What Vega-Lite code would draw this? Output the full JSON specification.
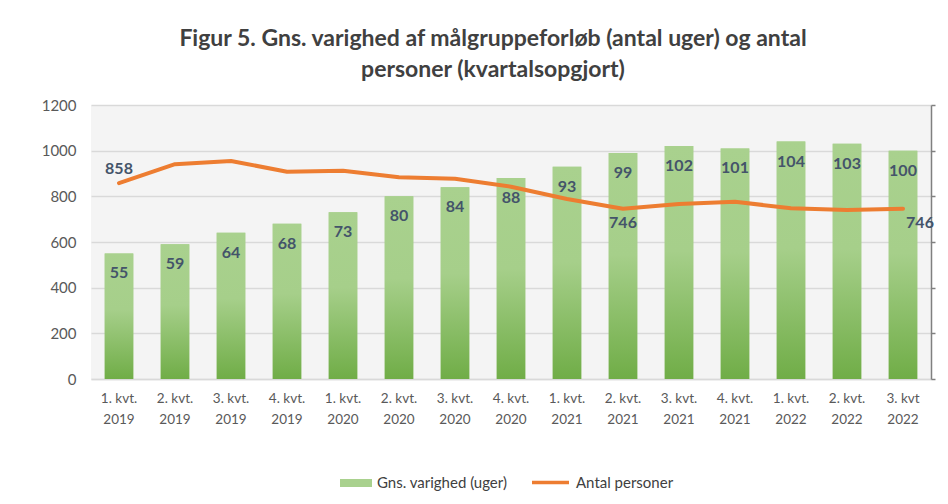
{
  "$schema": "https://vega.github.io/schema/vega-lite/v6.json",
  "autosize": "none",
  "width": 840,
  "height": 274,
  "padding": {"left": 91, "top": 105, "right": 17, "bottom": 125},
  "background": "white",
  "config": {
    "font": "Lato",
    "view": {"fill": "#f4f4f4", "stroke": null}
  },
  "title": {
    "text": ["Figur 5. Gns. varighed af målgruppeforløb (antal uger) og antal", "personer (kvartalsopgjort)"],
    "font": "Lato",
    "fontSize": 23,
    "fontWeight": "bold",
    "color": "#404040",
    "anchor": "middle",
    "dx": -18,
    "offset": 16,
    "lineHeight": 31
  },
  "data": {
    "values": [
      {"kvartal": "1. kvt. 2019", "uger": 55, "personer": 858},
      {"kvartal": "2. kvt. 2019", "uger": 59, "personer": 941},
      {"kvartal": "3. kvt. 2019", "uger": 64, "personer": 955},
      {"kvartal": "4. kvt. 2019", "uger": 68, "personer": 908},
      {"kvartal": "1. kvt. 2020", "uger": 73, "personer": 912},
      {"kvartal": "2. kvt. 2020", "uger": 80, "personer": 884},
      {"kvartal": "3. kvt. 2020", "uger": 84, "personer": 877},
      {"kvartal": "4. kvt. 2020", "uger": 88, "personer": 842},
      {"kvartal": "1. kvt. 2021", "uger": 93, "personer": 788},
      {"kvartal": "2. kvt. 2021", "uger": 99, "personer": 746},
      {"kvartal": "3. kvt. 2021", "uger": 102, "personer": 766},
      {"kvartal": "4. kvt. 2021", "uger": 101, "personer": 776},
      {"kvartal": "1. kvt. 2022", "uger": 104, "personer": 748},
      {"kvartal": "2. kvt. 2022", "uger": 103, "personer": 740},
      {"kvartal": "3. kvt 2022", "uger": 100, "personer": 746}
    ]
  },
  "encoding": {
    "x": {
      "field": "kvartal",
      "type": "nominal",
      "sort": null,
      "scale": {"paddingInner": 0.49, "paddingOuter": 0.245},
      "axis": {
        "title": null,
        "labelAngle": 0,
        "labelExpr": "[slice(datum.label, 0, -5), slice(datum.label, -4)]",
        "labelFont": "Lato",
        "labelFontSize": 13.5,
        "labelLineHeight": 21,
        "labelColor": "#595959",
        "labelPadding": 12,
        "ticks": false,
        "domain": true,
        "domainColor": "#d9d9d9",
        "domainWidth": 1.5,
        "grid": false
      }
    }
  },
  "layer": [
    {
      "encoding": {
        "y": {
          "field": "uger",
          "type": "quantitative",
          "scale": {"domain": [0, 120], "nice": false},
          "axis": {
            "orient": "right",
            "title": null,
            "labels": false,
            "grid": false,
            "values": [0, 20, 40, 60, 80, 100, 120],
            "domain": true,
            "domainColor": "#808080",
            "domainWidth": 1.5,
            "ticks": true,
            "tickColor": "#808080",
            "tickSize": 4,
            "tickWidth": 1.5,
            "translate": 0.5
          }
        }
      },
      "layer": [
        {
          "mark": {"type": "bar"},
          "encoding": {
            "fill": {
              "datum": "Gns. varighed (uger)",
              "type": "nominal",
              "scale": {"range": ["#a9d18e"]},
              "legend": {
                "orient": "none",
                "legendX": 249,
                "legendY": 362,
                "title": null,
                "symbolType": "M-1,-0.25H1V0.25H-1Z",
                "symbolSize": 1024,
                "symbolStrokeWidth": 0,
                "labelFont": "Lato",
                "labelFontSize": 15,
                "labelColor": "#404040",
                "labelOffset": 5
              }
            }
          }
        },
        {
          "mark": {
            "type": "bar",
            "fill": {
              "gradient": "linear",
              "x1": 0, "y1": 0, "x2": 0, "y2": 1,
              "stops": [
                {"offset": 0, "color": "#a9d18e"},
                {"offset": 0.45, "color": "#a6cf8a"},
                {"offset": 1, "color": "#70ad47"}
              ]
            }
          }
        },
        {
          "mark": {
            "type": "text",
            "baseline": "middle",
            "dy": 20,
            "fontWeight": "bold",
            "fontSize": 16,
            "font": "Lato",
            "color": "#44546a"
          },
          "encoding": {"text": {"field": "uger", "type": "quantitative"}}
        }
      ]
    },
    {
      "encoding": {
        "y": {
          "field": "personer",
          "type": "quantitative",
          "scale": {"domain": [0, 1200], "nice": false},
          "axis": {
            "orient": "left",
            "title": null,
            "format": "d",
            "values": [0, 200, 400, 600, 800, 1000, 1200],
            "grid": true,
            "gridColor": "#d9d9d9",
            "gridWidth": 1.5,
            "domain": false,
            "ticks": false,
            "labelPadding": 15,
            "labelFont": "Lato",
            "labelFontSize": 15,
            "labelColor": "#595959"
          }
        }
      },
      "layer": [
        {
          "mark": {"type": "line", "strokeWidth": 4, "interpolate": "linear", "strokeCap": "round", "strokeJoin": "round"},
          "encoding": {
            "stroke": {
              "datum": "Antal personer",
              "type": "nominal",
              "scale": {"range": ["#ed7d31"]},
              "legend": {
                "orient": "none",
                "legendX": 439,
                "legendY": 357,
                "title": null,
                "symbolType": "stroke",
                "symbolSize": 1369,
                "symbolStrokeWidth": 3.5,
                "labelFont": "Lato",
                "labelFontSize": 15,
                "labelColor": "#404040",
                "labelOffset": 5
              }
            }
          }
        },
        {
          "transform": [{"filter": "datum.kvartal == '1. kvt. 2019'"}],
          "mark": {"type": "text", "baseline": "middle", "dy": -14, "fontWeight": "bold", "fontSize": 16, "font": "Lato", "color": "#44546a"},
          "encoding": {"text": {"field": "personer", "type": "quantitative"}}
        },
        {
          "transform": [{"filter": "datum.kvartal == '2. kvt. 2021'"}],
          "mark": {"type": "text", "baseline": "middle", "dy": 14, "fontWeight": "bold", "fontSize": 16, "font": "Lato", "color": "#44546a"},
          "encoding": {"text": {"field": "personer", "type": "quantitative"}}
        },
        {
          "transform": [{"filter": "datum.kvartal == '3. kvt 2022'"}],
          "mark": {"type": "text", "baseline": "middle", "dy": 14, "dx": 17, "fontWeight": "bold", "fontSize": 16, "font": "Lato", "color": "#44546a"},
          "encoding": {"text": {"field": "personer", "type": "quantitative"}}
        }
      ]
    }
  ],
  "resolve": {"scale": {"y": "independent"}}
}
